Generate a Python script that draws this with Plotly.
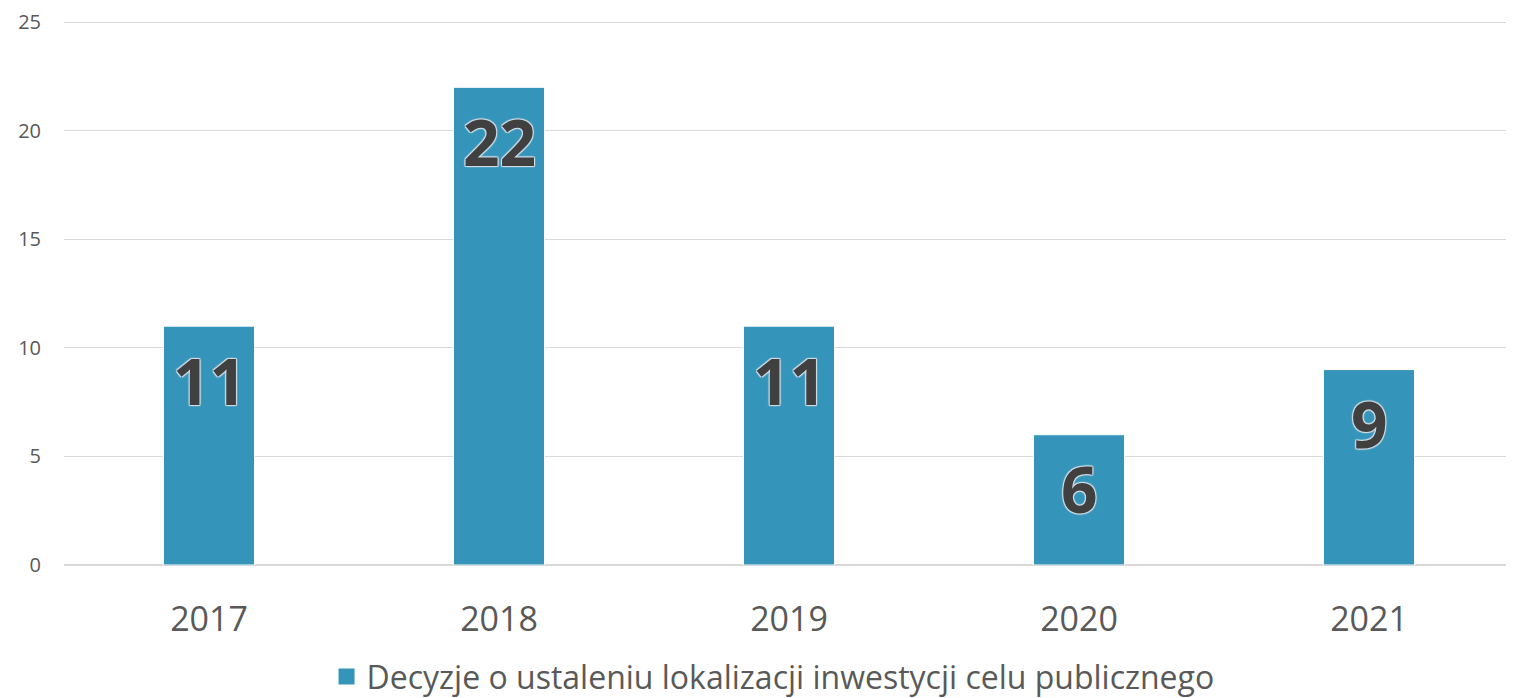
import plotly.graph_objects as go

years = ["2017", "2018", "2019", "2020", "2021"]
values = [11, 22, 11, 6, 9]
series_name = "Decyzje o ustaleniu lokalizacji inwestycji celu publicznego"

BAR_COLOR = "#3494BA"

fig = go.Figure()
fig.add_trace(go.Bar(
    x=years, y=values, name=series_name,
    marker=dict(color=BAR_COLOR, line=dict(color="#FFFFFF", width=1)),
    showlegend=False,
))
# legend entry with a larger square symbol
fig.add_trace(go.Scatter(
    x=[years[0]], y=[None], mode="markers", name=series_name,
    marker=dict(symbol="square", size=20, color=BAR_COLOR),
    showlegend=True, hoverinfo="skip",
))

shadow = "1px 1px 1px #d0dde6, -1px -1px 1px #d0dde6, 1px -1px 1px #d0dde6, -1px 1px 1px #d0dde6"
for i, v in enumerate(values):
    fig.add_annotation(
        x=i, y=v, text=str(v), showarrow=False,
        yanchor="middle", yshift=-54,
        font=dict(family="Open Sans", size=64, color="#404040", weight="bold", shadow=shadow),
    )

fig.update_layout(
    width=1506, height=690,
    margin=dict(l=56, r=0, t=12, b=133, autoexpand=False),
    plot_bgcolor="white", paper_bgcolor="white",
    bargap=0.686,
    font=dict(family="Open Sans", color="#595959"),
    xaxis=dict(type="category", categoryorder="array", categoryarray=years,
               range=[-0.5, len(years) - 0.5],
               tickfont=dict(size=34, color="#595959"), showgrid=False,
               showline=False, ticks="", ticklabelstandoff=31),
    yaxis=dict(range=[0, 25.1], tickvals=[0, 5, 10, 15, 20, 25],
               tickfont=dict(size=20, color="#595959"),
               showgrid=True, gridcolor="#D9D9D9", gridwidth=1,
               zeroline=True, zerolinecolor="#D9D9D9", zerolinewidth=2,
               ticks="", ticklabelstandoff=22),
    legend=dict(orientation="h", x=0.489, xanchor="center", y=-0.205, yanchor="middle",
                font=dict(size=32, color="#595959"), itemsizing="trace"),
)

fig.write_html("out.html")
